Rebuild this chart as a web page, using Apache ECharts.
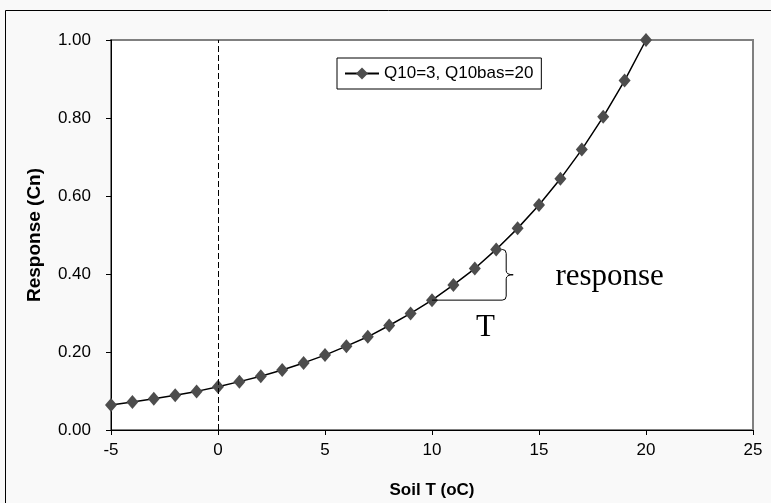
<!DOCTYPE html>
<html><head><meta charset="utf-8">
<script src="https://cdn.jsdelivr.net/npm/echarts@6/dist/echarts.min.js"></script>
<style>html,body{margin:0;padding:0;background:#fff}#c{width:771px;height:503px}</style>
</head><body><div id="c"></div>
<script>
const soilT = [-5,-4,-3,-2,-1,0,1,2,3,4,5,6,7,8,9,10,11,12,13,14,15,16,17,18,19,20];
const response = [0.064,0.072,0.080,0.089,0.099,0.111,0.124,0.138,0.154,0.172,0.192,0.215,0.239,0.268,0.299,0.333,0.372,0.414,0.463,0.517,0.577,0.644,0.719,0.803,0.896,1.000];
const seriesName = 'Q10=3, Q10bas=20';
const xTicks = [-5,0,5,10,15,20,25];
const yTicks = [0,0.2,0.4,0.6,0.8,1.0];

(function(){
const FONT = 'Arial, "Liberation Sans", sans-serif';
const chart = echarts.init(document.getElementById('c'));
const option = {
  backgroundColor: '#f9f9f9',
  animation: false,
  grid: {left:111, right:18, top:40, bottom:73, outerBoundsMode:'none', containLabel:false, show:true, backgroundColor:'#fff', borderColor:'#808080', borderWidth:2},
  legend: {
    data:[seriesName], left:337, top:58, orient:'horizontal',
    backgroundColor:'#fff', borderColor:'#000', borderWidth:1, padding:[7,8,7,7],
    itemWidth:34, itemHeight:15,
    textStyle:{fontFamily:FONT, fontSize:17, color:'#000'}
  },
  xAxis: {
    type:'value', min:xTicks[0], max:xTicks[xTicks.length-1], interval:5,
    name:'Soil T (oC)', nameLocation:'middle', nameGap:52,
    nameTextStyle:{fontFamily:FONT, fontWeight:'bold', fontSize:17, color:'#000'},
    axisLine:{onZero:false, lineStyle:{color:'#000', width:1}},
    axisTick:{show:true, inside:false, length:5, lineStyle:{color:'#000'}},
    axisLabel:{fontFamily:FONT, fontSize:17, color:'#000', margin:12},
    splitLine:{show:false}
  },
  yAxis: {
    type:'value', min:yTicks[0], max:yTicks[yTicks.length-1], interval:0.2,
    name:'Response (Cn)', nameLocation:'middle', nameGap:67, nameRotate:90,
    nameTextStyle:{fontFamily:FONT, fontWeight:'bold', fontSize:19, color:'#000'},
    axisLine:{show:true, onZero:false, lineStyle:{color:'#000', width:1}},
    axisTick:{show:true, inside:false, length:5, lineStyle:{color:'#000'}},
    axisLabel:{fontFamily:FONT, fontSize:17, color:'#000', margin:20, formatter:v=>v.toFixed(2)},
    splitLine:{show:false}
  },
  series: [{
    name: seriesName, type:'line',
    data: soilT.map((t,i)=>[t,response[i]]),
    symbol:'diamond', symbolSize:[12,14],
    itemStyle:{color:'#4d4d4d'},
    lineStyle:{color:'#000', width:1.5},
    markLine:{
      silent:true, symbol:'none', label:{show:false},
      lineStyle:{color:'#000', type:[6,3], width:1},
      data:[{xAxis:0}]
    }
  }]
};
chart.setOption(option);

function px(x,y){return chart.convertToPixel({gridIndex:0},[x,y]);}
const pA = px(10, response[15]);
const pB = px(13, response[18]);
const bx = pB[0] + 10;
const yTop = pB[1], yBot = pA[1], yMid = (yTop+yBot)/2;
const st = {stroke:'#000', lineWidth:1, fill:'none'};
const curves = [
  {x1:bx-4, y1:yTop, cpx1:bx, cpy1:yTop, x2:bx, y2:yTop+4},
  {x1:bx, y1:yMid-4, cpx1:bx, cpy1:yMid, x2:bx+7, y2:yMid},
  {x1:bx+7, y1:yMid, cpx1:bx, cpy1:yMid, x2:bx, y2:yMid+4},
  {x1:bx, y1:yBot-4, cpx1:bx, cpy1:yBot, x2:bx-4, y2:yBot}
];
const lines = [
  {x1:pA[0], y1:yBot, x2:bx-4, y2:yBot},
  {x1:bx, y1:yTop+4, x2:bx, y2:yMid-4},
  {x1:bx, y1:yMid+4, x2:bx, y2:yBot-4}
];
const respPos = px(18.3, 0.392);
const tPos = px(12.5, 0.262);
const g = [
  {type:'rect', shape:{x:5.5, y:10.5, width:800, height:600}, style:{fill:'none', stroke:'#000', lineWidth:1}, silent:true, z:100},
  {type:'text', x:respPos[0], y:respPos[1], style:{text:'response', font:'31px "Liberation Serif", "Times New Roman", serif', fill:'#000', align:'center', verticalAlign:'middle'}, z:50},
  {type:'text', x:tPos[0], y:tPos[1], style:{text:'T', font:'31px "Liberation Serif", "Times New Roman", serif', fill:'#000', align:'center', verticalAlign:'middle'}, z:50}
];
curves.forEach(s=>g.push({type:'bezierCurve', shape:s, style:st, z:50}));
lines.forEach(s=>g.push({type:'line', shape:s, style:st, z:50}));
chart.setOption({graphic: g});
})();
</script></body></html>
